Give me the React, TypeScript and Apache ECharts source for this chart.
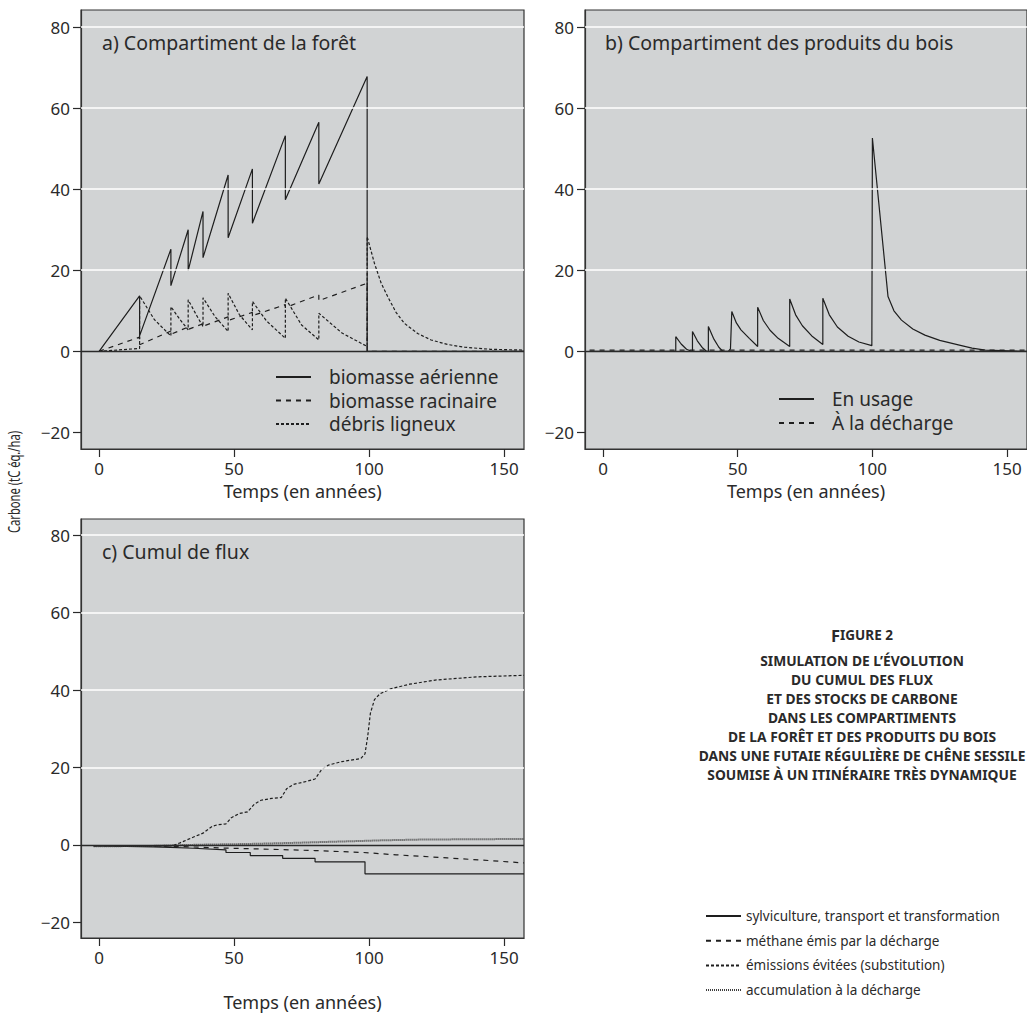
import React, { useEffect, useRef } from "react";
import * as echarts from "echarts";

const xTicks = [0, 50, 100, 150];
const yTicks = [-20, 0, 20, 40, 60, 80];
const gridValues = [20, 40, 60, 80];

// Panel a
const aerienne = [[0,0],[15,13.7],[15,3.8],[26.6,25.2],[26.6,16.2],[33,30.0],[33,19.9],[38.5,34.5],[38.5,23.1],[47.8,43.5],[47.8,28.0],[56.8,45.0],[56.8,31.6],[69,53.2],[69,37.4],[81.4,56.5],[81.4,41.3],[99.3,67.8],[99.3,0],[157.4,0]];
const racinaire = [[0,0],[15,3.5],[15,1.6],[26.6,5.0],[26.6,4.2],[33,6.0],[33,5.4],[38.5,6.8],[38.5,6.2],[47.8,8.5],[47.8,7.6],[56.8,9.6],[56.8,8.8],[69,11.5],[69,10.8],[81.4,13.9],[81.4,12.5],[99.3,16.8],[99.3,0],[157.4,0]];
const debris = [[0,0],[15,0.7],[15,13.7],[20.5,7.8],[26.6,3.8],[26.6,11.0],[30,7.8],[33,5.3],[33,12.7],[36,9.0],[38.5,6.1],[38.5,13.2],[43,8.5],[47.8,4.9],[47.8,14.3],[52,9.0],[56.8,5.3],[56.8,12.3],[62,7.5],[69,3.2],[69,13.1],[75,6.5],[81.4,2.8],[81.4,9.4],[90,4.5],[99.3,1.2],[99.3,28.3],[102,21.7],[104.5,16.8],[106.9,13.5],[110,9.6],[113.1,6.9],[118,4.4],[123,2.8],[129,1.7],[135.4,1.0],[145,0.5],[157.4,0.3]];

// Panel b
const enUsage = [[-5,0],[27,0],[27,3.6],[29,1.8],[31,0.5],[32.8,0],[33.2,0],[33.2,4.9],[35,2.6],[37,0.8],[38.4,0],[39.1,0],[39.1,6.1],[41,3.2],[43,1.0],[44.5,0],[46.5,0],[47.3,0.6],[47.8,9.8],[49.5,7.0],[51.2,5.3],[54.3,3.2],[57.4,1.2],[57.4,10.9],[59.5,7.6],[62,5.2],[65,3.2],[69.3,1.2],[69.3,12.9],[71.5,9.0],[74,6.3],[77.5,3.8],[81.6,1.7],[81.6,13.1],[84,9.0],[87,6.0],[91,3.7],[95,2.3],[99.8,1.4],[100,52.6],[105.8,13.5],[108,10.0],[110.8,7.7],[115,5.5],[119.5,4.0],[125,2.7],[131.9,1.6],[137,0.8],[141.9,0.3],[157.4,0]];
const decharge = [[-5,0.3],[40,0.3],[100,0.3],[157.4,0.3]];

// Panel c
const sylviculture = [[-2,-0.3],[10,-0.4],[20,-0.55],[26.4,-0.7],[35,-0.9],[47,-1.3],[47,-2.0],[56,-2.0],[56,-2.8],[68,-2.8],[68,-3.5],[80,-3.5],[80,-4.4],[98.5,-4.4],[98.5,-7.5],[157.4,-7.5]];
const methane = [[-2,-0.2],[27.6,-0.4],[46,-0.85],[60,-1.1],[80,-1.5],[98,-2.0],[110,-2.6],[129,-3.4],[145,-4.1],[157.4,-4.7]];
const evitees = [[-2,-0.3],[10,-0.3],[20,-0.4],[27,-0.3],[30,0.5],[35,2.0],[38.5,3.0],[42,4.8],[44,5.2],[47,5.4],[49,7.0],[52,8.1],[55,8.5],[57.5,10.5],[60,11.5],[64,12.0],[67.5,12.2],[69.5,14.5],[72,15.6],[77,16.4],[80,17.0],[82.5,19.5],[85,20.6],[90,21.5],[97,22.3],[98.5,23.5],[99.5,28],[100.5,34],[102,37.5],[104,39],[108,40.3],[115,41.5],[125,42.6],[140,43.4],[157.4,43.8]];
const accumulation = [[-2,-0.4],[20,-0.3],[30,-0.1],[40,0.05],[55,0.2],[70,0.45],[85,0.75],[98,1.0],[105,1.15],[120,1.35],[157.4,1.5]];

const panelTitles = ["a) Compartiment de la forêt", "b) Compartiment des produits du bois", "c) Cumul de flux"];
const xName = "Temps (en années)";
const yName = "Carbone (tC éq./ha)";
const legendA = ["biomasse aérienne", "biomasse racinaire", "débris ligneux"];
const legendB = ["En usage", "À la décharge"];
const legendC = ["sylviculture, transport et transformation", "méthane émis par la décharge", "émissions évitées (substitution)", "accumulation à la décharge"];
const titleLines = [
  "SIMULATION DE L’ÉVOLUTION",
  "DU CUMUL DES FLUX",
  "ET DES STOCKS DE CARBONE",
  "DANS LES COMPARTIMENTS",
  "DE LA FORÊT ET DES PRODUITS DU BOIS",
  "DANS UNE FUTAIE RÉGULIÈRE DE CHÊNE SESSILE",
  "SOUMISE À UN ITINÉRAIRE TRÈS DYNAMIQUE",
];

const FONT = "Noto Sans";
const INK = "#2a2a2a";
const BG = "#d1d3d4";

const grids = [
  { left: 81, top: 10, width: 443, height: 439 },
  { left: 585, top: 10, width: 442, height: 439 },
  { left: 81, top: 519, width: 443, height: 419 },
];
const nameGaps = [33, 33, 55];

function fmt(v: number) {
  return v < 0 ? "\u2212" + Math.abs(v) : String(v);
}

export default function App() {
  const ref = useRef<HTMLDivElement>(null);
  useEffect(() => {
    if (!ref.current) return;
    const chart = echarts.init(ref.current, undefined, { renderer: "svg" });

    const xAxis = grids.map((_, i) => ({
      type: "value",
      gridIndex: i,
      min: -6.7,
      max: 157.4,
      position: "bottom",
      axisLine: { show: true, onZero: false, lineStyle: { color: "#333", width: 1.2 } },
      splitLine: { show: false },
      axisTick: { show: true, inside: false, length: 8, customValues: xTicks, lineStyle: { color: INK, width: 1.2 } },
      axisLabel: { customValues: xTicks, margin: 11, fontSize: 17, color: INK, fontFamily: FONT },
      name: xName,
      nameLocation: "middle",
      nameGap: nameGaps[i],
      nameTextStyle: { fontSize: 18, color: INK, fontFamily: FONT },
    }));
    const yAxis = grids.map((_, i) => ({
      type: "value",
      gridIndex: i,
      min: -24.1,
      max: 84.2,
      position: "left",
      axisLine: { show: true, onZero: false, lineStyle: { color: "#333", width: 1.2 } },
      splitLine: { show: false },
      axisTick: { show: true, inside: false, length: 8, customValues: yTicks, lineStyle: { color: INK, width: 1.2 } },
      axisLabel: { customValues: yTicks, margin: 11, fontSize: 17, color: INK, fontFamily: FONT, formatter: (v: number) => fmt(v) },
    }));

    const refLines = (i: number) => ({
      type: "line",
      xAxisIndex: i,
      yAxisIndex: i,
      data: [],
      silent: true,
      z: 1,
      markLine: {
        symbol: "none",
        silent: true,
        label: { show: false },
        animation: false,
        lineStyle: { color: "#ffffff", width: 1.5, type: "solid" },
        data: [
          ...gridValues.map((v) => ({ yAxis: v })),
          { yAxis: 0, lineStyle: { color: INK, width: 1.4, type: "solid" } },
        ],
      },
    });

    const line = (name: string, i: number, data: number[][], type: any, width = 1.2, color = "#1e1e1e") => ({
      name,
      type: "line",
      xAxisIndex: i,
      yAxisIndex: i,
      data,
      symbol: "none",
      showSymbol: false,
      z: 3,
      lineStyle: { color, width, type },
      itemStyle: { color },
    });

    const legendBase = {
      orient: "vertical",
      padding: 0,
      itemWidth: 35,
      itemHeight: 12,
      itemStyle: { opacity: 0 },
      textStyle: { fontSize: 19, color: INK, fontFamily: FONT, lineHeight: 20, padding: [0, 0, 0, 13] },
      selectedMode: false,
    };

    const option: any = {
      animation: false,
      textStyle: { fontFamily: FONT },
      grid: grids.map((g) => ({ ...g, show: true, backgroundColor: BG, borderColor: "#333", borderWidth: 1.2, containLabel: false })),
      xAxis,
      yAxis,
      legend: [
        { ...legendBase, data: legendA, left: 275, top: 367, itemGap: 3.5 },
        { ...legendBase, data: legendB, left: 778, top: 389, itemGap: 4 },
        {
          ...legendBase,
          data: legendC,
          left: 705,
          top: 906,
          itemGap: 4.7,
          textStyle: { ...legendBase.textStyle, fontSize: 13.5, padding: [0, 0, 0, 0] },
        },
      ],
      series: [
        refLines(0),
        refLines(1),
        refLines(2),
        line(legendA[0], 0, aerienne, "solid"),
        line(legendA[1], 0, racinaire, [5, 5]),
        line(legendA[2], 0, debris, [3, 2]),
        line(legendB[0], 1, enUsage, "solid"),
        line(legendB[1], 1, decharge, [5, 5]),
        line(legendC[0], 2, sylviculture, "solid"),
        line(legendC[1], 2, methane, [5, 5]),
        line(legendC[2], 2, evitees, [3, 2]),
        line(legendC[3], 2, accumulation, [1, 1], 2, "#3e3e3e"),
      ],
      graphic: [
        { type: "text", left: 102, top: 32, style: { text: panelTitles[0], fontSize: 19.5, fill: INK, fontFamily: FONT } },
        { type: "text", left: 605, top: 32, style: { text: panelTitles[1], fontSize: 19.5, fill: INK, fontFamily: FONT } },
        { type: "text", left: 102, top: 541, style: { text: panelTitles[2], fontSize: 19.5, fill: INK, fontFamily: FONT } },
        {
          type: "text",
          x: 14,
          y: 482,
          rotation: Math.PI / 2,
          scaleX: 0.66,
          style: { text: yName, fontSize: 17, fill: INK, fontFamily: FONT, align: "center", verticalAlign: "middle" },
        },
        {
          type: "text",
          x: 862,
          y: 635,
          style: {
            text: "{a|F}{b|IGURE 2}",
            align: "center",
            verticalAlign: "middle",
            rich: {
              a: { fontSize: 16.5, fontWeight: "bold", fill: INK, fontFamily: FONT },
              b: { fontSize: 13.5, fontWeight: "bold", fill: INK, fontFamily: FONT },
            },
          },
        },
        {
          type: "text",
          x: 862,
          y: 651,
          style: {
            text: titleLines.join("\n"),
            align: "center",
            verticalAlign: "top",
            fontSize: 13.8,
            fontWeight: "bold",
            lineHeight: 19,
            fill: INK,
            fontFamily: FONT,
          },
        },
      ],
    };
    chart.setOption(option);
    return () => chart.dispose();
  }, []);
  return <div ref={ref} style={{ position: "absolute", left: 0, top: 0, width: 1027, height: 1017, background: "#fff" }} />;
}
